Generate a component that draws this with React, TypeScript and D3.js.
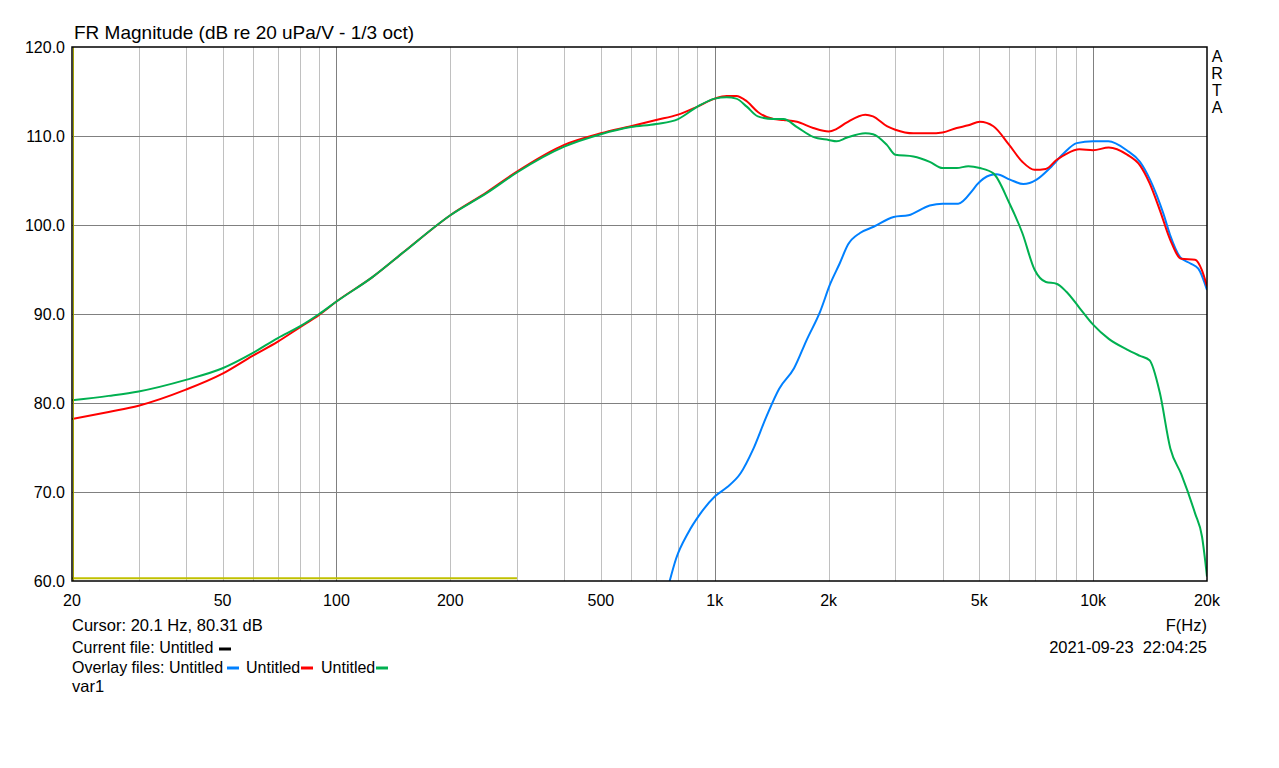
import React from "react";
import * as d3 from "d3";

// ---- data ----
const freqRG = [20, 25, 30, 40, 50, 60, 70, 80, 90, 100, 125, 150, 200, 250, 300, 400, 500, 600, 700, 800, 900, 1000, 1075, 1140, 1215, 1300, 1430, 1520, 1650, 1820, 2000, 2100, 2230, 2500, 2620, 2850, 3000, 3350, 3700, 4000, 4360, 4680, 5020, 5450, 6000, 6500, 7000, 7500, 8000, 8500, 9200, 10000, 11000, 12300, 13300, 14100, 15000, 16000, 17100, 18600, 19400, 20000];
const redDb = [78.2, 79.0, 79.7, 81.5, 83.3, 85.3, 86.9, 88.5, 89.9, 91.4, 94.2, 96.9, 101.1, 103.7, 106.0, 109.0, 110.3, 111.1, 111.8, 112.4, 113.3, 114.2, 114.5, 114.5, 113.9, 112.7, 111.9, 111.8, 111.6, 110.9, 110.5, 110.8, 111.5, 112.4, 112.2, 111.1, 110.7, 110.3, 110.3, 110.4, 110.9, 111.2, 111.6, 111.1, 109.0, 107.1, 106.2, 106.3, 107.3, 108.0, 108.5, 108.4, 108.7, 107.9, 106.7, 104.7, 101.7, 98.3, 96.2, 96.1, 94.9, 93.1];
const greenDb = [80.3, 80.8, 81.3, 82.6, 83.9, 85.6, 87.3, 88.6, 90.0, 91.4, 94.2, 96.9, 101.1, 103.6, 105.9, 108.8, 110.2, 111.0, 111.35, 111.9, 113.3, 114.2, 114.35, 114.2, 113.3, 112.2, 111.9, 111.9, 111.0, 109.9, 109.55, 109.4, 109.8, 110.3, 110.2, 109.0, 107.9, 107.7, 107.1, 106.4, 106.4, 106.6, 106.4, 105.8, 102.5, 99.1, 95.0, 93.6, 93.4, 92.5, 90.7, 88.8, 87.2, 86.0, 85.3, 84.8, 81.2, 74.9, 72.0, 67.6, 65.0, 60.5];
const freqBlue = [760, 790, 850, 910, 1000, 1075, 1170, 1260, 1370, 1480, 1620, 1750, 1900, 2020, 2140, 2250, 2420, 2630, 2970, 3250, 3700, 4000, 4400, 4800, 4924, 5340, 5560, 6030, 6540, 7090, 7690, 8340, 9050, 10000, 10970, 12270, 13300, 14140, 15330, 15970, 16980, 18040, 18970, 20000];
const blueDb = [60.0, 62.5, 65.4, 67.4, 69.5, 70.5, 72.1, 74.7, 78.5, 81.6, 83.9, 87.1, 90.3, 93.4, 95.7, 97.8, 99.1, 99.8, 100.9, 101.1, 102.2, 102.4, 102.4, 103.9, 104.5, 105.6, 105.7, 105.1, 104.6, 105.1, 106.4, 108.0, 109.2, 109.4, 109.4, 108.4, 107.1, 105.1, 101.3, 98.9, 96.4, 95.7, 95.1, 92.7];
const currentFreq = [20, 300];
const currentDb = [60.3, 60.3];

const xTicks = [20, 50, 100, 200, 500, 1000, 2000, 5000, 10000, 20000];
const xTickLabels = ["20", "50", "100", "200", "500", "1k", "2k", "5k", "10k", "20k"];
const yTicks = [60, 70, 80, 90, 100, 110, 120];
const majorF = [100, 1000, 10000];
const minorF = [30, 40, 50, 60, 70, 80, 90, 200, 300, 400, 500, 600, 700, 800, 900, 2000, 3000, 4000, 5000, 6000, 7000, 8000, 9000];

const BLUE = "#0080ff";
const RED = "#ff0000";
const GREEN = "#00b050";
const FONT = "Liberation Sans, Arial, sans-serif";

export default function App() {
  const L = 72, R = 1207, T = 47, B = 581;
  const x = d3.scaleLog().domain([20, 20000]).range([L, R]);
  const y = d3.scaleLinear().domain([60, 120]).range([B, T]);
  const line = d3
    .line<[number, number]>()
    .x((d) => x(d[0]))
    .y((d) => y(d[1]))
    .curve(d3.curveMonotoneX);
  const mk = (f: number[], v: number[]) => line(f.map((ff, i) => [ff, v[i]] as [number, number])) || "";
  const FS = 16.5;

  return (
    <div style={{ position: "fixed", left: 0, top: 0 }}>
      <svg width={1279} height={768} style={{ display: "block", background: "#fff" }} fontFamily={FONT}>
        <rect x={0} y={0} width={1279} height={768} fill="#fff" />
        <defs>
          <clipPath id="plot">
            <rect x={L} y={T} width={R - L} height={B - T} />
          </clipPath>
        </defs>
        {/* grid */}
        {minorF.map((f) => (
          <line key={"m" + f} x1={Math.round(x(f)) + 0.5} x2={Math.round(x(f)) + 0.5} y1={T} y2={B} stroke="#c0c0c0" strokeWidth={1} />
        ))}
        {majorF.map((f) => (
          <line key={"M" + f} x1={Math.round(x(f)) + 0.5} x2={Math.round(x(f)) + 0.5} y1={T} y2={B} stroke="#808080" strokeWidth={1} />
        ))}
        {yTicks.slice(1, -1).map((v) => (
          <line key={"h" + v} x1={L} x2={R} y1={Math.round(y(v)) + 0.5} y2={Math.round(y(v)) + 0.5} stroke="#808080" strokeWidth={1} />
        ))}
        {/* curves */}
        <g clipPath="url(#plot)" fill="none" strokeWidth={2} strokeLinejoin="round">
          <path d={mk(currentFreq, currentDb)} stroke="#c0c000" />
          <path d={mk(freqBlue, blueDb)} stroke={BLUE} />
          <path d={mk(freqRG, redDb)} stroke={RED} />
          <path d={mk(freqRG, greenDb)} stroke={GREEN} />
        </g>
        {/* cursor line */}
        <line x1={73.5} x2={73.5} y1={T} y2={B} stroke="#a0a000" strokeWidth={1} />
        {/* frame */}
        <rect x={L} y={T} width={R - L} height={B - T} fill="none" stroke="#000" strokeWidth={1.5} />
        {/* title */}
        <text x={74} y={39} fontSize={19} fill="#000">FR Magnitude (dB re 20 uPa/V - 1/3 oct)</text>
        {/* y labels */}
        {yTicks.map((v) => (
          <text key={"yl" + v} x={65} y={y(v) + 6} fontSize={16} textAnchor="end" fill="#000">
            {v.toFixed(1)}
          </text>
        ))}
        {/* x labels */}
        {xTicks.map((f, i) => (
          <text key={"xl" + f} x={x(f)} y={606} fontSize={16} textAnchor="middle" fill="#000">
            {xTickLabels[i]}
          </text>
        ))}
        {/* ARTA */}
        {["A", "R", "T", "A"].map((c, i) => (
          <text key={"a" + i} x={1217} y={62 + i * 17} fontSize={16} textAnchor="middle" fill="#000">
            {c}
          </text>
        ))}
        {/* bottom info */}
        <text x={72} y={631} fontSize={FS} fill="#000">Cursor: 20.1 Hz, 80.31 dB</text>
        <text x={72} y={653} fontSize={16} fill="#000">Current file: Untitled</text>
        <line x1={219} x2={231} y1={649} y2={649} stroke="#000" strokeWidth={3} />
        <text x={72} y={673} fontSize={16} fill="#000">Overlay files: Untitled</text>
        <line x1={227} x2={239} y1={668} y2={668} stroke={BLUE} strokeWidth={3} />
        <text x={246} y={673} fontSize={16} fill="#000">Untitled</text>
        <line x1={301} x2={313} y1={668} y2={668} stroke={RED} strokeWidth={3} />
        <text x={321} y={673} fontSize={16} fill="#000">Untitled</text>
        <line x1={376} x2={388} y1={668} y2={668} stroke={GREEN} strokeWidth={3} />
        <text x={72} y={692} fontSize={FS} fill="#000">var1</text>
        <text x={1207} y={631} fontSize={FS} textAnchor="end" fill="#000">F(Hz)</text>
        <text x={1207} y={653} fontSize={FS} textAnchor="end" fill="#000" style={{ whiteSpace: "pre" }}>
          {"2021-09-23  22:04:25"}
        </text>
      </svg>
    </div>
  );
}
